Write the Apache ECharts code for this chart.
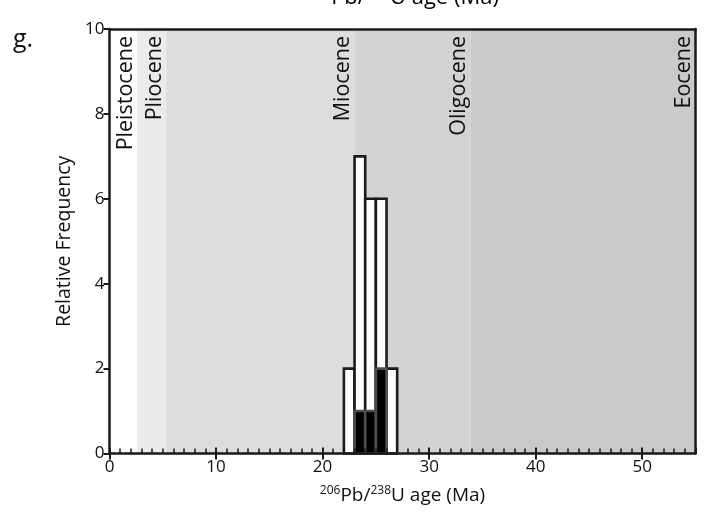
<!DOCTYPE html>
<html>
<head>
<meta charset="utf-8">
<script src="https://cdn.jsdelivr.net/npm/echarts@6/dist/echarts.min.js"></script>
<style>
  html, body { margin: 0; padding: 0; background: #fff; }
  #chart { width: 707px; height: 516px; }
</style>
</head>
<body>
<div id="chart"></div>
<script>
// Zircon U-Pb age histogram, Bua Rhyolite [K12-31]
const binStart = [22, 23, 24, 25, 26];
const binEnd = [23, 24, 25, 26, 27];
const allCounts = [2, 7, 6, 6, 2];
const filledCounts = [0, 1, 1, 2, 0];

// Geological epochs (Ma)
const epochNames = ['Pleistocene', 'Pliocene', 'Miocene', 'Oligocene', 'Eocene'];
const epochStart = [0, 2.58, 5.33, 23.03, 33.9];
const epochEnd = [2.58, 5.33, 23.03, 33.9, 55];

// Axis ticks
const xMin = 0, xMax = 55, xStep = 10, xMinorStep = 1;
const yMin = 0, yMax = 10, yStep = 2;

const epochFill = ['#ffffff', '#ebebeb', '#dddddd', '#d3d3d3', '#cacaca'];
const FONT = "'Open Sans', 'Noto Sans', sans-serif";
const INK = '#1a1a1a';

const chart = echarts.init(document.getElementById('chart'), null, { renderer: 'canvas' });

const epochData = epochNames.map((n, i) => [epochStart[i], epochEnd[i], i]);
const openBars = binStart.map((s, i) => [s, binEnd[i], allCounts[i]]).filter(d => d[2] > 0);
const solidBars = binStart.map((s, i) => [s, binEnd[i], filledCounts[i]]).filter(d => d[2] > 0);

function barRenderer(fill, stroke) {
  return function (params, api) {
    const a = api.coord([api.value(0), api.value(2)]);
    const b = api.coord([api.value(1), 0]);
    return {
      type: 'rect',
      shape: { x: a[0], y: a[1], width: b[0] - a[0], height: b[1] - a[1] },
      style: { fill: fill, stroke: stroke, lineWidth: 2.6 }
    };
  };
}

function ageRich(main, sup, lh) {
  return {
    sup: { fontSize: sup, verticalAlign: 'top', lineHeight: lh, fontFamily: FONT, color: '#111' },
    m: { fontSize: main, lineHeight: lh, fontFamily: FONT, color: '#111' }
  };
}
const ageTitle = '{sup|206}{m|Pb/}{sup|238}{m|U age (Ma)}';

const hiddenAxisBits = { axisLabel: { show: false }, splitLine: { show: false } };

const option = {
  animation: false,
  backgroundColor: '#ffffff',
  grid: { left: 109.5, right: 11.5, top: 29, bottom: 62.5, containLabel: false },
  xAxis: [
    {
      type: 'value', min: xMin, max: xMax, interval: xStep, position: 'bottom', z: 10,
      name: ageTitle, nameLocation: 'middle', nameGap: 31,
      nameTextStyle: { rich: ageRich(19, 12, 22) },
      axisLine: { show: true, onZero: false, lineStyle: { color: INK, width: 2.5 } },
      axisTick: { show: true, inside: false, length: 6, lineStyle: { color: INK, width: 2 } },
      axisLabel: { show: true, margin: 5, fontSize: 17, color: '#111', fontFamily: FONT, showMaxLabel: false,
        formatter: v => (v % xStep === 0 ? String(v) : '') },
      splitLine: { show: false }
    },
    Object.assign({
      type: 'value', min: xMin, max: xMax, interval: xStep, position: 'bottom', z: 10,
      axisLine: { show: false },
      axisTick: { show: true, inside: true, length: 6, lineStyle: { color: INK, width: 2 } }
    }, hiddenAxisBits),
    Object.assign({
      type: 'value', min: xMin, max: xMax, interval: xMinorStep, position: 'bottom', z: 10,
      axisLine: { show: false },
      axisTick: { show: true, inside: true, length: 5, lineStyle: { color: INK, width: 1.5 } }
    }, hiddenAxisBits),
    Object.assign({
      type: 'value', min: xMin, max: xMax, position: 'top', z: 10,
      axisLine: { show: true, onZero: false, lineStyle: { color: INK, width: 2.5 } },
      axisTick: { show: false }
    }, hiddenAxisBits)
  ],
  yAxis: [
    {
      type: 'value', min: yMin, max: yMax, interval: yStep, position: 'left', z: 10,
      name: 'Relative Frequency', nameLocation: 'middle', nameGap: 32, nameRotate: 90,
      nameTextStyle: { fontSize: 19.5, color: '#111', fontFamily: FONT },
      axisLine: { show: true, onZero: false, lineStyle: { color: INK, width: 2.5 } },
      axisTick: { show: true, inside: false, length: 6, lineStyle: { color: INK, width: 2 } },
      axisLabel: { show: true, margin: 5, fontSize: 17, color: '#111', fontFamily: FONT },
      splitLine: { show: false }
    },
    Object.assign({
      type: 'value', min: yMin, max: yMax, position: 'right', z: 10,
      axisLine: { show: true, onZero: false, lineStyle: { color: INK, width: 2.5 } },
      axisTick: { show: false }
    }, hiddenAxisBits)
  ],
  series: [
    {
      // epoch background bands with rotated names
      type: 'custom', z: 1, silent: true,
      xAxisIndex: 0, yAxisIndex: 0,
      data: epochData,
      encode: { x: [0, 1] },
      renderItem: function (params, api) {
        const i = api.value(2);
        const a = api.coord([api.value(0), yMax]);
        const b = api.coord([api.value(1), yMin]);
        return {
          type: 'group',
          children: [
            { type: 'rect', shape: { x: a[0], y: a[1], width: b[0] - a[0], height: b[1] - a[1] },
              style: { fill: epochFill[i] } },
            { type: 'text', x: b[0] - 11.5, y: a[1] + 7, rotation: Math.PI / 2,
              style: { text: epochNames[i], fontSize: 21.5, fontFamily: FONT, fill: '#111',
                       align: 'right', verticalAlign: 'middle' } }
          ]
        };
      }
    },
    {
      type: 'custom', z: 3, xAxisIndex: 0, yAxisIndex: 0,
      data: openBars, encode: { x: [0, 1], y: 2 },
      renderItem: barRenderer('#ffffff', INK)
    },
    {
      type: 'custom', z: 4, xAxisIndex: 0, yAxisIndex: 0,
      data: solidBars, encode: { x: [0, 1], y: 2 },
      renderItem: barRenderer('#000000', '#4d4d4d')
    }
  ],
  graphic: [
    { type: 'text', left: 13, top: 27,
      style: { text: 'g.', fontSize: 25, fontFamily: FONT, fill: '#111' } },
    { type: 'text', x: 537, y: 226,
      style: { text: 'Bua Rhyolite', fontSize: 20.5, fontStyle: 'italic', fontFamily: FONT, fill: '#111',
               align: 'center', verticalAlign: 'middle' } },
    { type: 'text', x: 538, y: 255,
      style: { text: '[K12-31]', fontSize: 20.5, fontStyle: 'italic', fontFamily: FONT, fill: '#111',
               align: 'center', verticalAlign: 'middle' } },
    { type: 'text', x: 403, y: -2,
      style: { text: ageTitle, rich: ageRich(22, 14, 26),
               align: 'center', verticalAlign: 'middle' } }
  ]
};

chart.setOption(option);
</script>
</body>
</html>
